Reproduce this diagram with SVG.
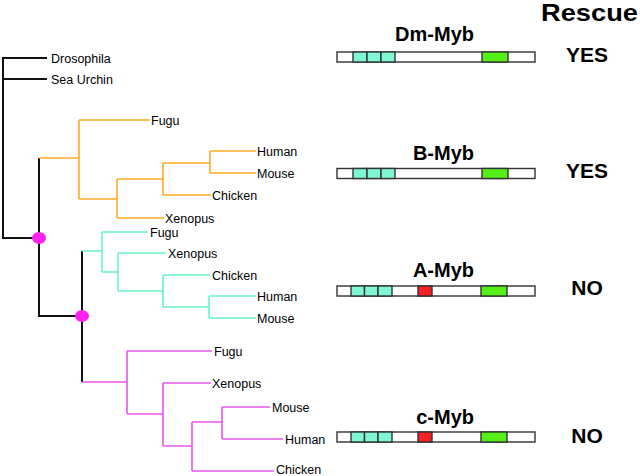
<svg xmlns="http://www.w3.org/2000/svg" width="640" height="476" viewBox="0 0 640 476">
<style>
.lbl{font-family:"Liberation Sans",Arial,sans-serif;font-size:12.5px;fill:#000}
.ttl{font-family:"Liberation Sans",Arial,sans-serif;font-size:20px;font-weight:bold;fill:#000}
.res{font-family:"Liberation Sans",Arial,sans-serif;font-size:21px;font-weight:bold;fill:#000;text-anchor:middle}
.blk{stroke:#111;stroke-width:2;fill:none}
.org{stroke:#FFAA22;stroke-width:1.6;fill:none}
.cyn{stroke:#66F5CC;stroke-width:1.6;fill:none}
.mag{stroke:#E855F0;stroke-width:1.6;fill:none}
.bar{fill:#fff;stroke:#333;stroke-width:1.4}
.rep{fill:#7FF7D4;stroke:#333;stroke-width:1.4}
.grn{fill:#55F018;stroke:#333;stroke-width:1.4}
.red{fill:#F22222;stroke:#333;stroke-width:1.4}
.dot{fill:#FF22EE}
</style>
<rect width="640" height="476" fill="#fff"/>
<g id="connectors">
<path class="blk" d="M3,58 H47 M3,79 H47 M3,57 V238 H39 M39,158 V316 H82 M82,251 V382"/>
<path class="org" d="M39,158 H79 M79,120 V199 M79,120 H150 M79,199 H117 M117,179 V218 M117,218 H164 M117,179 H163 M163,163 V195 M163,195 H211 M163,163 H210 M210,151 V173 M210,151 H256 M210,173 H256"/>
<path class="cyn" d="M82,251 H102 M102,232 V272 M102,232 H148 M102,272 H118 M118,253 V291 M118,253 H166 M118,291 H163 M163,275 V307 M163,275 H210 M163,307 H209 M209,296 V318 M209,296 H256 M209,318 H256"/>
<path class="mag" d="M82,382 H127 M127,351 V414 M127,351 H212 M127,414 H163 M163,383 V446 M163,383 H211 M163,446 H192 M192,422 V471 M192,471 H274 M192,422 H222 M222,407 V439 M222,407 H270 M222,439 H283"/>
</g>
<g id="node-dup1"><ellipse class="dot" cx="39" cy="238" rx="7" ry="6"/></g>
<g id="node-dup2"><ellipse class="dot" cx="82" cy="316" rx="7" ry="6"/></g>
<g id="leaf-drosophila"><text class="lbl" x="51" y="62.5">Drosophila</text></g>
<g id="leaf-seaurchin"><text class="lbl" x="51" y="83.5">Sea Urchin</text></g>
<g id="leaf-b-fugu"><text class="lbl" x="151" y="124.5">Fugu</text></g>
<g id="leaf-b-human"><text class="lbl" x="257" y="155.5">Human</text></g>
<g id="leaf-b-mouse"><text class="lbl" x="257" y="177.5">Mouse</text></g>
<g id="leaf-b-chicken"><text class="lbl" x="212" y="199.5">Chicken</text></g>
<g id="leaf-b-xenopus"><text class="lbl" x="165" y="222.5">Xenopus</text></g>
<g id="leaf-a-fugu"><text class="lbl" x="150" y="236.5">Fugu</text></g>
<g id="leaf-a-xenopus"><text class="lbl" x="168" y="257.5">Xenopus</text></g>
<g id="leaf-a-chicken"><text class="lbl" x="212" y="279.5">Chicken</text></g>
<g id="leaf-a-human"><text class="lbl" x="257" y="300.5">Human</text></g>
<g id="leaf-a-mouse"><text class="lbl" x="257" y="322.5">Mouse</text></g>
<g id="leaf-c-fugu"><text class="lbl" x="214" y="355.5">Fugu</text></g>
<g id="leaf-c-xenopus"><text class="lbl" x="212" y="387.5">Xenopus</text></g>
<g id="leaf-c-mouse"><text class="lbl" x="272" y="411.5">Mouse</text></g>
<g id="leaf-c-human"><text class="lbl" x="285" y="443.5">Human</text></g>
<g id="leaf-c-chicken"><text class="lbl" x="276" y="474">Chicken</text></g>
<g id="rescue-header"><text x="541" y="21" font-family="Liberation Sans,Arial,sans-serif" font-size="24" font-weight="bold" textLength="97" lengthAdjust="spacingAndGlyphs">Rescue</text></g>
<g id="dm-myb">
<text class="ttl" x="474" y="41" text-anchor="end">Dm-Myb</text>
<rect class="bar" x="337" y="52" width="198" height="10"/>
<rect class="rep" x="353" y="52" width="14" height="10"/>
<rect class="rep" x="367" y="52" width="14" height="10"/>
<rect class="rep" x="381" y="52" width="14" height="10"/>
<rect class="grn" x="482" y="52" width="26" height="10"/>
<text class="res" x="587" y="62">YES</text>
</g>
<g id="b-myb">
<text class="ttl" x="474" y="160" text-anchor="end">B-Myb</text>
<rect class="bar" x="337" y="168.5" width="198" height="10"/>
<rect class="rep" x="353" y="168.5" width="14" height="10"/>
<rect class="rep" x="367" y="168.5" width="14" height="10"/>
<rect class="rep" x="381" y="168.5" width="14" height="10"/>
<rect class="grn" x="482" y="168.5" width="26" height="10"/>
<text class="res" x="587" y="178">YES</text>
</g>
<g id="a-myb">
<text class="ttl" x="474" y="277" text-anchor="end">A-Myb</text>
<rect class="bar" x="337" y="286" width="198" height="10"/>
<rect class="rep" x="351" y="286" width="13.5" height="10"/>
<rect class="rep" x="364.5" y="286" width="13.5" height="10"/>
<rect class="rep" x="378" y="286" width="14" height="10"/>
<rect class="red" x="418" y="286" width="14" height="10"/>
<rect class="grn" x="481" y="286" width="26" height="10"/>
<text class="res" x="587" y="295">NO</text>
</g>
<g id="c-myb">
<text class="ttl" x="474" y="424" text-anchor="end">c-Myb</text>
<rect class="bar" x="337" y="432" width="198" height="10"/>
<rect class="rep" x="351" y="432" width="13.5" height="10"/>
<rect class="rep" x="364.5" y="432" width="13.5" height="10"/>
<rect class="rep" x="378" y="432" width="14" height="10"/>
<rect class="red" x="418" y="432" width="14" height="10"/>
<rect class="grn" x="481" y="432" width="26" height="10"/>
<text class="res" x="587" y="443">NO</text>
</g>
</svg>
